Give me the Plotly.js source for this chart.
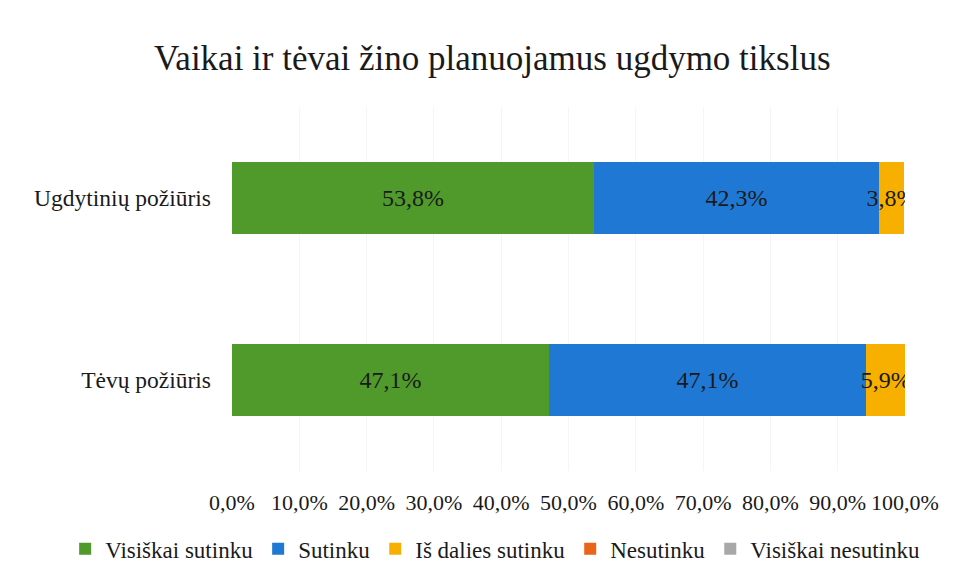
<!DOCTYPE html>
<html><head><meta charset="utf-8">
<script src="https://cdn.plot.ly/plotly-3.0.1.min.js"></script>
<style>html,body{margin:0;padding:0;background:#fff;}#chart{width:969px;height:582px;}</style>
</head><body><div id="chart"></div>
<script>
const categories = ["Tėvų požiūris", "Ugdytinių požiūris"];
const seriesNames = ["Visiškai sutinku", "Sutinku", "Iš dalies sutinku", "Nesutinku", "Visiškai nesutinku"];
const visiskaiSutinku = [47.1, 53.8];
const sutinku = [47.1, 42.3];
const isDaliesSutinku = [5.9, 3.8];
const nesutinku = [0, 0];
const visiskaiNesutinku = [0, 0];
const colors = ["#4f9a2b", "#1f78d4", "#f7b000", "#e8651a", "#a8a8a8"];
const tickVals = [0,10,20,30,40,50,60,70,80,90,100];
const tickText = tickVals.map(v => v.toFixed(1).replace('.', ',') + '%');

const FAM = 'Liberation Serif';
const W = 969;
const seriesVals = [visiskaiSutinku, sutinku, isDaliesSutinku, nesutinku, visiskaiNesutinku];
const fmt = v => v.toFixed(1).replace('.', ',') + '%';
const traces = seriesVals.map((vals, i) => ({
  type: 'bar', orientation: 'h', name: seriesNames[i],
  y: categories, x: vals,
  marker: {color: colors[i]},
  text: vals.map(v => v > 0 ? fmt(v) : ''),
  textposition: 'inside', insidetextanchor: 'middle', constraintext: 'none', textangle: 0,
  textfont: {family: FAM, size: 24, color: '#1a1a1a'},
  insidetextfont: {family: FAM, size: 24, color: '#1a1a1a'},
  hoverinfo: 'none'
}));

const layout = {
  width: 969, height: 582,
  barmode: 'stack', bargap: 0.6,
  paper_bgcolor: '#fff', plot_bgcolor: '#fff',
  font: {family: FAM, color: '#1a1a1a', size: 22},
  title: {text: 'Vaikai ir tėvai žino planuojamus ugdymo tikslus', font: {size: 35, family: FAM, color: '#1a1a1a'}, x: 0.508, xanchor: 'center', y: 0.9, yanchor: 'middle', yref: 'container'},
  margin: {l: 0, r: 0, t: 107, b: 111},
  xaxis: {domain: [232 / W, 905 / W], range: [0, 100], tickvals: tickVals, ticktext: tickText, showgrid: true, gridcolor: '#f5f5f5', zeroline: false, showline: false, ticks: '', ticklabelstandoff: 16, tickfont: {family: FAM, size: 22, color: '#1a1a1a'}, fixedrange: true, automargin: false},
  yaxis: {showgrid: false, zeroline: false, showline: false, ticks: '', ticklabelstandoff: 20, tickfont: {family: FAM, size: 23.5, color: '#1a1a1a'}, fixedrange: true, automargin: false},
  legend: {orientation: 'h', xref: 'paper', yref: 'container', x: 0.511, xanchor: 'center', y: 0.057, yanchor: 'middle', font: {family: FAM, size: 23, color: '#1a1a1a'}, traceorder: 'normal', itemwidth: 30},
  showlegend: true
};
Plotly.newPlot('chart', traces, layout, {displayModeBar: false, staticPlot: true});
</script></body></html>
